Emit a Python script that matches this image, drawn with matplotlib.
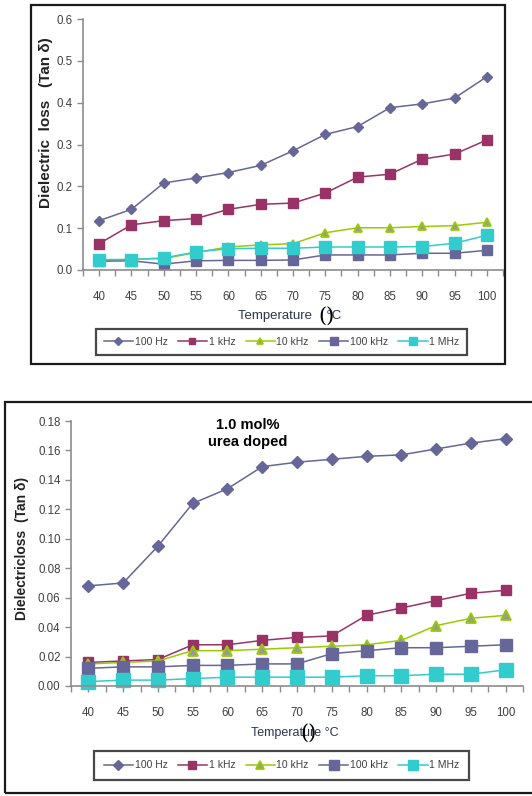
import matplotlib
matplotlib.use("Agg")
import matplotlib.pyplot as plt
from matplotlib.patches import Rectangle
from matplotlib.ticker import FormatStrFormatter, FixedLocator

plt.rcParams['font.family'] = ['Liberation Sans', 'DejaVu Sans']

temps = ['40', '45', '50', '55', '60', '65', '70', '75', '80', '85', '90', '95', '100']
series_names = ['100 Hz', '1 kHz', '10 kHz', '100 kHz', '1 MHz']

# Top chart (undoped)
top_100hz = [0.118, 0.145, 0.208, 0.220, 0.233, 0.250, 0.285, 0.324, 0.343, 0.388, 0.397, 0.411, 0.462]
top_1khz = [0.063, 0.108, 0.118, 0.123, 0.145, 0.157, 0.160, 0.184, 0.222, 0.229, 0.265, 0.277, 0.311]
top_10khz = [0.022, 0.026, 0.027, 0.042, 0.055, 0.060, 0.063, 0.089, 0.101, 0.101, 0.104, 0.106, 0.114]
top_100khz = [0.021, 0.022, 0.014, 0.022, 0.023, 0.023, 0.024, 0.036, 0.036, 0.036, 0.040, 0.040, 0.047]
top_1mhz = [0.025, 0.025, 0.029, 0.043, 0.051, 0.052, 0.052, 0.055, 0.055, 0.055, 0.056, 0.064, 0.083]

# Bottom chart (1.0 mol% urea doped)
bot_100hz = [0.068, 0.070, 0.095, 0.124, 0.134, 0.149, 0.152, 0.154, 0.156, 0.157, 0.161, 0.165, 0.168]
bot_1khz = [0.016, 0.017, 0.018, 0.028, 0.028, 0.031, 0.033, 0.034, 0.048, 0.053, 0.058, 0.063, 0.065]
bot_10khz = [0.015, 0.016, 0.017, 0.024, 0.024, 0.025, 0.026, 0.027, 0.028, 0.031, 0.041, 0.046, 0.048]
bot_100khz = [0.012, 0.013, 0.013, 0.014, 0.014, 0.015, 0.015, 0.022, 0.024, 0.026, 0.026, 0.027, 0.028]
bot_1mhz = [0.003, 0.004, 0.004, 0.005, 0.006, 0.006, 0.006, 0.006, 0.007, 0.007, 0.008, 0.008, 0.011]

W, H = 532, 796
fig = plt.figure(figsize=(W / 100, H / 100), dpi=100)
fig.patch.set_facecolor('white')


def frac_rect(x0, y0, x1, y1):
    return [x0 / W, 1 - y1 / H, (x1 - x0) / W, (y1 - y0) / H]


COL_100HZ = '#666699'
COL_1KHZ = '#993366'
COL_10KHZ = '#99CC00'
COL_100KHZ = '#666699'
COL_1MHZ = '#33CCCC'
TXT = '#404040'


def style_axes(ax, ymax, ystep, fmt):
    x = list(range(len(temps)))
    ax.set_xlim(-0.5, len(temps) - 0.5)
    ax.set_ylim(0, ymax)
    ax.set_xticks(x)
    ax.set_xticklabels(temps)
    ax.xaxis.set_minor_locator(FixedLocator([i - 0.5 for i in range(len(temps) + 1)]))
    n = int(round(ymax / ystep))
    ax.set_yticks([i * ystep for i in range(n + 1)])
    ax.yaxis.set_major_formatter(FormatStrFormatter(fmt))
    for s in ['top', 'right']:
        ax.spines[s].set_visible(False)
    for s in ['left', 'bottom']:
        ax.spines[s].set_color('#8c8c8c')
        ax.spines[s].set_linewidth(1.2)
    ax.tick_params(axis='both', which='both', direction='out', length=4,
                   color='#8c8c8c', width=1, labelsize=8.3, labelcolor=TXT)
    ax.tick_params(axis='x', which='major', pad=11)
    ax.set_facecolor('white')


def draw(ax, s100, s1k, s10k, s100k, s1m, big):
    x = list(range(len(temps)))
    k = 1.2 if big else 1.0
    lines = []
    lines += ax.plot(x, s100, color=COL_100HZ, lw=1.1, marker='D', ms=5.5 * k,
                     mfc=COL_100HZ, mec=COL_100HZ, label=series_names[0])
    lines += ax.plot(x, s1k, color=COL_1KHZ, lw=1.1, marker='s', ms=6.5 * k,
                     mfc=COL_1KHZ, mec=COL_1KHZ, label=series_names[1])
    lines += ax.plot(x, s10k, color=COL_10KHZ, lw=1.1, marker='^', ms=6 * k,
                     mfc='#999999', mec=COL_10KHZ, mew=1.3, label=series_names[2])
    lines += ax.plot(x, s100k, color=COL_100KHZ, lw=1.1, marker='s', ms=7.5 * k,
                     mfc=COL_100KHZ, mec=COL_100KHZ, label=series_names[3])
    lines += ax.plot(x, s1m, color=COL_1MHZ, lw=1.1, marker='s', ms=8 * k,
                     mfc=COL_1MHZ, mec=COL_1MHZ, label=series_names[4])
    for l in lines:
        l.set_clip_on(False)
    return lines


def make_legend(handles, cy, pad):
    leg = fig.legend(handles=handles, loc='center', bbox_to_anchor=(281.5 / W, 1 - cy / H),
                     ncol=5, fontsize=7.5, frameon=True, fancybox=False, handlelength=2.8,
                     columnspacing=1.0, handletextpad=0.15, borderpad=pad,
                     borderaxespad=0, markerscale=0.75)
    leg.get_frame().set_edgecolor('#1a1a1a')
    leg.get_frame().set_linewidth(1.6)
    for t in leg.get_texts():
        t.set_color(TXT)
    return leg


# Panel borders
fig.add_artist(Rectangle((31 / W, 1 - 364 / H), (505 - 31) / W, (364 - 5) / H,
                         transform=fig.transFigure, fill=False, ec='#1a1a1a', lw=1.6))
fig.add_artist(Rectangle((5 / W, 1 - 793 / H), (540 - 5) / W, (793 - 402) / H,
                         transform=fig.transFigure, fill=False, ec='#1a1a1a', lw=1.6,
                         clip_on=False))

# Top chart
ax1 = fig.add_axes(frac_rect(83, 19, 503, 270))
style_axes(ax1, 0.6, 0.1, '%.1f')
h1 = draw(ax1, top_100hz, top_1khz, top_10khz, top_100khz, top_1mhz, big=False)
fig.text(46 / W, 1 - 123 / H, 'Dielectric  loss   (Tan δ)', rotation=90, ha='center',
         va='center', fontsize=11, fontweight='bold', color='#222222')
fig.text(290 / W, 1 - 316 / H, 'Temperature    °C', ha='center', va='center',
         fontsize=9.5, color='#2a3550')
fig.text(326 / W, 1 - 316 / H, '()', ha='center', va='center', fontsize=15,
         family='DejaVu Serif', color='black')
make_legend(h1, 342, 0.75)

# Bottom chart
ax2 = fig.add_axes(frac_rect(71, 421, 523, 686))
style_axes(ax2, 0.18, 0.02, '%.2f')
h2 = draw(ax2, bot_100hz, bot_1khz, bot_10khz, bot_100khz, bot_1mhz, big=True)
ax2.text(0.39, 1.012, '1.0 mol%\nurea doped', transform=ax2.transAxes, ha='center',
         va='top', fontsize=10.5, fontweight='bold', linespacing=1.3)
fig.text(22 / W, 1 - 548 / H, 'Dielectricloss  (Tan δ)', rotation=90, ha='center',
         va='center', fontsize=10, fontweight='bold', color='#222222')
fig.text(295 / W, 1 - 733 / H, 'Temperature °C', ha='center', va='center',
         fontsize=9, color='#2a3550')
fig.text(308 / W, 1 - 733 / H, '()', ha='center', va='center', fontsize=15,
         family='DejaVu Serif', color='black')
make_legend(h2, 765.5, 0.95)

fig.savefig('out.png', dpi=100, facecolor='white')
